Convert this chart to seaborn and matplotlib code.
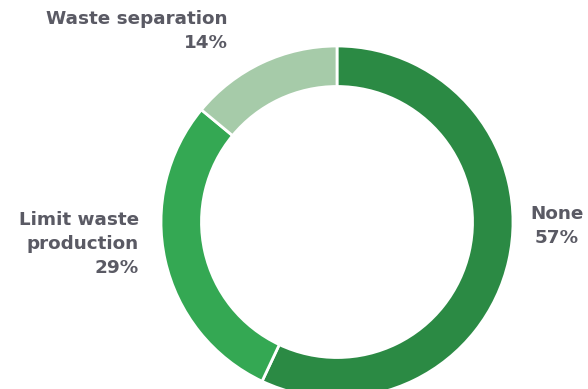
import matplotlib
matplotlib.use("Agg")
import matplotlib.pyplot as plt
import seaborn as sns

# Survey answers: measures taken about waste
categories = ["None", "Limit waste\nproduction", "Waste separation"]
shares = [57, 29, 14]
colors = ["#2b8a44", "#34a853", "#a6cba9"]

sns.set_theme(style="white")
plt.rcParams["font.family"] = ["DejaVu Sans"]

W, H = 588, 389
fig = plt.figure(figsize=(W / 100, H / 100), dpi=100)
fig.patch.set_facecolor("white")

# ring centred at (337, 222) px from the top, outer radius 176 px
cx, cy, r = 337, 222, 176
ax = fig.add_axes([(cx - r) / W, (H - cy - r) / H, 2 * r / W, 2 * r / H])
ax.pie(
    shares,
    colors=colors,
    startangle=90,
    counterclock=False,
    radius=1.0,
    wedgeprops=dict(width=0.23, edgecolor="white", linewidth=2),
)
ax.set_xlim(-1, 1)
ax.set_ylim(-1, 1)
ax.set_aspect("equal")
ax.axis("off")

txt = dict(fontsize=13.2, fontweight="bold", color="#5a5a64", linespacing=1.4)
labels = [f"{c}\n{s}%" for c, s in zip(categories, shares)]

def px(x, y):
    return x / W, 1 - y / H

fig.text(*px(557, 226), labels[0], ha="center", va="center", **txt)
fig.text(*px(139, 244), labels[1], ha="right", va="center", **txt)
fig.text(*px(228, 31), labels[2], ha="right", va="center", **txt)

fig.savefig("out.png", dpi=100)
